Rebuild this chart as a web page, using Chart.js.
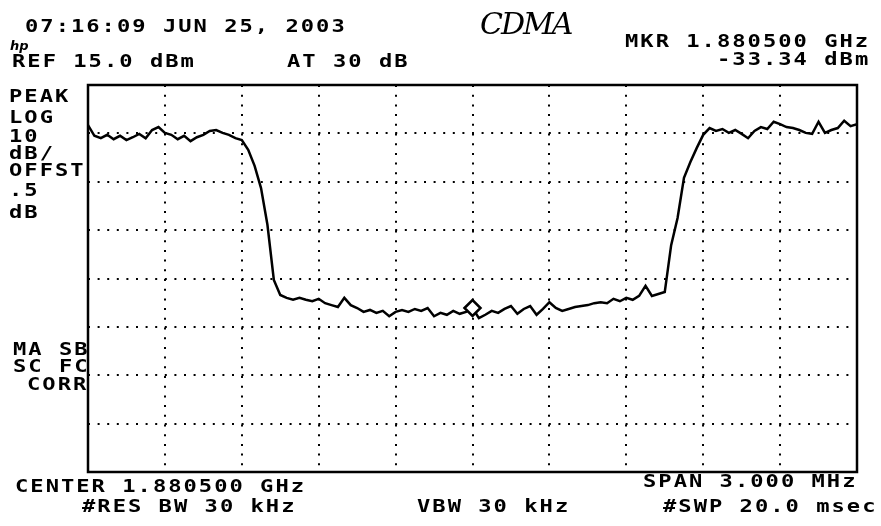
<!DOCTYPE html>
<html lang="en">

<head>
    <meta charset="UTF-8">
    <title>CDMA spectrum</title>
    <script src="https://cdn.jsdelivr.net/npm/chart.js"></script>
    <style>
        html,
        body {
            margin: 0;
            padding: 0;
            background: #fff;
        }

        #wrap {
            position: relative;
            width: 881px;
            height: 526px;
        }

        #myChart {
            position: absolute;
            left: 0;
            top: 0;
        }

        .lbl {
            position: absolute;
            font-family: "DejaVu Sans Mono", monospace;
            font-weight: bold;
            font-size: 17px;
            line-height: 17px;
            letter-spacing: 1.55px;
            white-space: pre;
            color: #000;
            transform: scaleX(1.3);
            transform-origin: 0 0;
        }

        .hand {
            position: absolute;
            left: 480px;
            top: 6px;
            font-family: "DejaVu Serif", serif;
            font-style: italic;
            font-size: 30px;
            letter-spacing: -2px;
            color: #000;
        }

        .logo {
            position: absolute;
            left: 10px;
            top: 38px;
            font-family: "DejaVu Sans", sans-serif;
            font-style: italic;
            font-weight: bold;
            font-size: 13px;
        }
    </style>
</head>

<body>
    <div id="wrap">
        <canvas id="myChart" width="881" height="526"></canvas>

        <div class="lbl" style="left:25px; top:18px;">07:16:09 JUN 25, 2003</div>
        <div class="logo">hp</div>
        <div class="hand">CDMA</div>
        <div class="lbl" style="left:12px; top:53px;">REF 15.0 dBm</div>
        <div class="lbl" style="left:287px; top:53px;">AT 30 dB</div>
        <div class="lbl" style="left:625px; top:33px;">MKR 1.880500 GHz</div>
        <div class="lbl" style="left:717px; top:51px;">-33.34 dBm</div>

        <div class="lbl" style="left:9px; top:88px;">PEAK</div>
        <div class="lbl" style="left:9px; top:109px;">LOG</div>
        <div class="lbl" style="left:9px; top:128px;">10</div>
        <div class="lbl" style="left:9px; top:145px;">dB/</div>
        <div class="lbl" style="left:9px; top:162px;">OFFST</div>
        <div class="lbl" style="left:9px; top:182px;">.5</div>
        <div class="lbl" style="left:9px; top:204px;">dB</div>

        <div class="lbl" style="left:13px; top:341px;">MA SB</div>
        <div class="lbl" style="left:13px; top:358px;">SC FC</div>
        <div class="lbl" style="left:27px; top:376px;">CORR</div>

        <div class="lbl" style="left:15px; top:478px;">CENTER 1.880500 GHz</div>
        <div class="lbl" style="left:82px; top:498px;">#RES BW 30 kHz</div>
        <div class="lbl" style="left:417px; top:498px;">VBW 30 kHz</div>
        <div class="lbl" style="left:643px; top:473px;">SPAN 3.000 MHz</div>
        <div class="lbl" style="left:663px; top:498px;">#SWP 20.0 msec</div>
    </div>

    <script>
        // sweep points (MHz)
        var freqMHz = [
            1879.000, 1879.025, 1879.050, 1879.075, 1879.100, 1879.125, 1879.150, 1879.175, 1879.200, 1879.225,
            1879.250, 1879.275, 1879.300, 1879.325, 1879.350, 1879.375, 1879.400, 1879.425, 1879.450, 1879.475,
            1879.500, 1879.525, 1879.550, 1879.575, 1879.600, 1879.625, 1879.650, 1879.675, 1879.700, 1879.725,
            1879.750, 1879.775, 1879.800, 1879.825, 1879.850, 1879.875, 1879.900, 1879.925, 1879.950, 1879.975,
            1880.000, 1880.025, 1880.050, 1880.075, 1880.100, 1880.125, 1880.150, 1880.175, 1880.200, 1880.225,
            1880.250, 1880.275, 1880.300, 1880.325, 1880.350, 1880.375, 1880.400, 1880.425, 1880.450, 1880.475,
            1880.500, 1880.525, 1880.550, 1880.575, 1880.600, 1880.625, 1880.650, 1880.675, 1880.700, 1880.725,
            1880.750, 1880.775, 1880.800, 1880.825, 1880.850, 1880.875, 1880.900, 1880.925, 1880.950, 1880.975,
            1881.000, 1881.025, 1881.050, 1881.075, 1881.100, 1881.125, 1881.150, 1881.175, 1881.200, 1881.225,
            1881.250, 1881.275, 1881.300, 1881.325, 1881.350, 1881.375, 1881.400, 1881.425, 1881.450, 1881.475,
            1881.500, 1881.525, 1881.550, 1881.575, 1881.600, 1881.625, 1881.650, 1881.675, 1881.700, 1881.725,
            1881.750, 1881.775, 1881.800, 1881.825, 1881.850, 1881.875, 1881.900, 1881.925, 1881.950, 1881.975,
            1882.000
        ];

        // trace level (dBm)
        var levelDbm = [
            6.7, 4.5, 4.0, 4.7, 3.8, 4.5, 3.6, 4.2, 4.9, 4.0,
            5.7, 6.3, 5.1, 4.7, 3.8, 4.5, 3.4, 4.2, 4.7, 5.5,
            5.7, 5.1, 4.7, 4.0, 3.6, 1.6, -1.7, -6.3, -13.9, -25.3,
            -28.4, -29.0, -29.4, -29.0, -29.4, -29.7, -29.2, -30.1, -30.5, -30.9,
            -29.0, -30.5, -31.1, -31.9, -31.5, -32.1, -31.7, -32.8, -31.9, -31.5,
            -31.9, -31.3, -31.7, -31.1, -32.8, -32.1, -32.5, -31.7, -32.3, -31.9,
            -31.1, -33.2, -32.5, -31.7, -32.1, -31.3, -30.7, -32.3, -31.3, -30.7,
            -32.5, -31.3, -29.9, -31.1, -31.7, -31.3, -30.9, -30.7, -30.5, -30.1,
            -29.9, -30.1, -29.2, -29.7, -29.0, -29.4, -28.6, -26.5, -28.6, -28.2,
            -27.8, -18.1, -12.5, -4.2, -0.9, 2.0, 4.7, 6.1, 5.5, 5.9,
            5.1, 5.7, 4.9, 4.0, 5.5, 6.3, 5.9, 7.4, 6.9, 6.3,
            6.1, 5.7, 5.1, 4.9, 7.4, 5.1, 5.7, 6.1, 7.6, 6.5,
            6.9
        ];

        var startMHz = 1879.0;
        var stopMHz = 1882.0;
        var mhzPerDiv = 0.3;
        var refDbm = 15;
        var dbPerDiv = 10;
        var yDivs = 8;
        var mkrMHz = 1880.5;

        var trace = freqMHz.map((f, i) => ({ x: f, y: levelDbm[i] }));
        var mkrPoint = [{ x: mkrMHz, y: levelDbm[freqMHz.indexOf(mkrMHz)] }];

        // solid frame around the graticule
        var framePlugin = {
            id: 'frame',
            afterDraw(chart) {
                var a = chart.chartArea;
                var ctx = chart.ctx;
                ctx.save();
                ctx.strokeStyle = '#000';
                ctx.lineWidth = 2.5;
                ctx.strokeRect(a.left, a.top, a.right - a.left, a.bottom - a.top);
                ctx.restore();
            }
        };

        function divTicks(from, step, n) {
            return axis => {
                axis.ticks = [];
                for (let k = 0; k <= n; k++) axis.ticks.push({ value: from + k * step });
            };
        }

        var ctx = document.getElementById('myChart').getContext('2d');
        var chart = new Chart(ctx, {
            type: 'line',
            data: {
                datasets: [{
                    data: mkrPoint,
                    showLine: false,
                    pointStyle: 'rectRot',
                    pointRadius: 8,
                    borderColor: '#000',
                    borderWidth: 2.5,
                    backgroundColor: '#fff'
                }, {
                    data: trace,
                    borderColor: '#000',
                    borderWidth: 2.5,
                    pointRadius: 0,
                    tension: 0,
                    fill: false
                }]
            },
            options: {
                responsive: false,
                animation: false,
                layout: { padding: { left: 88, right: 24, top: 85, bottom: 54 } },
                plugins: { legend: { display: false }, tooltip: { enabled: false } },
                scales: {
                    x: {
                        type: 'linear',
                        min: startMHz,
                        max: stopMHz,
                        afterBuildTicks: divTicks(startMHz, mhzPerDiv, 10),
                        ticks: { display: false },
                        grid: { color: '#000', lineWidth: 2, drawTicks: false },
                        border: { display: false, dash: [2, 7.7] }
                    },
                    y: {
                        min: refDbm - dbPerDiv * yDivs,
                        max: refDbm,
                        afterBuildTicks: divTicks(refDbm - dbPerDiv * yDivs, dbPerDiv, yDivs),
                        ticks: { display: false },
                        grid: { color: '#000', lineWidth: 2, drawTicks: false },
                        border: { display: false, dash: [2, 7.6] }
                    }
                }
            },
            plugins: [framePlugin]
        });
    </script>
</body>

</html>
